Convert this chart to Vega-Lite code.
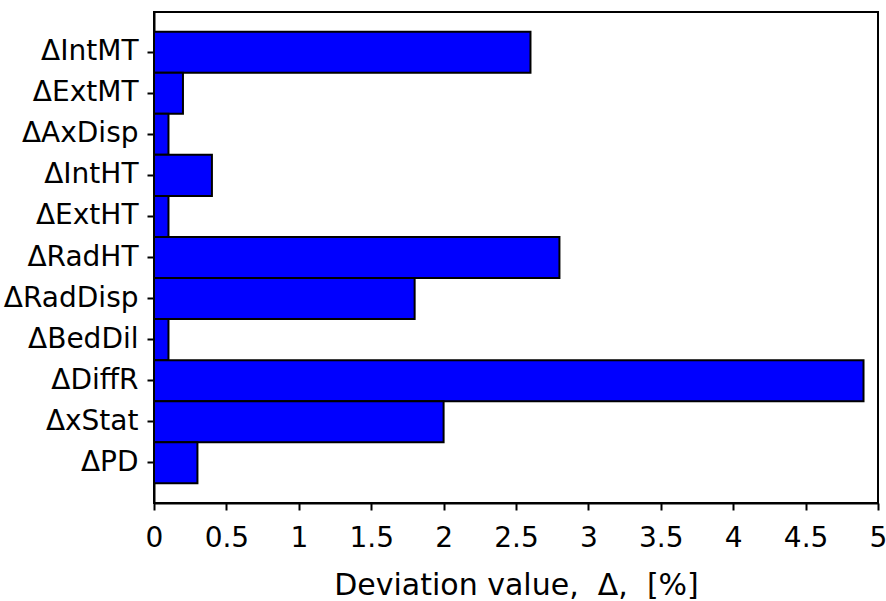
{
  "$schema": "https://vega.github.io/schema/vega-lite/v6.json",
  "width": 724,
  "height": 491,
  "autosize": {"type": "none"},
  "padding": {"left": 154, "top": 12, "right": 8, "bottom": 98},
  "background": "white",
  "config": {
    "view": {"stroke": "black", "strokeWidth": 2},
    "font": "DejaVu Sans"
  },
  "data": {
    "values": [
      {"param": "ΔIntMT", "deviation": 2.6},
      {"param": "ΔExtMT", "deviation": 0.2},
      {"param": "ΔAxDisp", "deviation": 0.1},
      {"param": "ΔIntHT", "deviation": 0.4},
      {"param": "ΔExtHT", "deviation": 0.1},
      {"param": "ΔRadHT", "deviation": 2.8},
      {"param": "ΔRadDisp", "deviation": 1.8},
      {"param": "ΔBedDil", "deviation": 0.1},
      {"param": "ΔDiffR", "deviation": 4.9},
      {"param": "ΔxStat", "deviation": 2.0},
      {"param": "ΔPD", "deviation": 0.3}
    ]
  },
  "mark": {"type": "bar", "fill": "#0000ff", "stroke": "black", "strokeWidth": 2},
  "encoding": {
    "y": {
      "field": "param",
      "type": "nominal",
      "sort": null,
      "scale": {"paddingInner": 0, "paddingOuter": 0.48},
      "axis": {
        "title": null,
        "domainColor": "black",
        "domainWidth": 2,
        "tickColor": "black",
        "tickWidth": 2,
        "tickSize": 7,
        "labelFont": "DejaVu Sans",
        "labelFontSize": 28,
        "labelColor": "black",
        "labelPadding": 9
      }
    },
    "x": {
      "field": "deviation",
      "type": "quantitative",
      "scale": {"domain": [0, 5], "nice": false},
      "axis": {
        "title": "Deviation value,\u00a0\u00a0Δ,\u00a0\u00a0[%]",
        "titleFont": "DejaVu Sans",
        "titleFontSize": 30,
        "titleFontWeight": "normal",
        "titleColor": "black",
        "titlePadding": 18,
        "values": [0, 0.5, 1, 1.5, 2, 2.5, 3, 3.5, 4, 4.5, 5],
        "format": "~g",
        "grid": false,
        "domainColor": "black",
        "domainWidth": 2,
        "tickColor": "black",
        "tickWidth": 2,
        "tickSize": 7,
        "labelFont": "DejaVu Sans",
        "labelFontSize": 28,
        "labelColor": "black",
        "labelPadding": 14,
        "labelFlush": false
      }
    }
  }
}
